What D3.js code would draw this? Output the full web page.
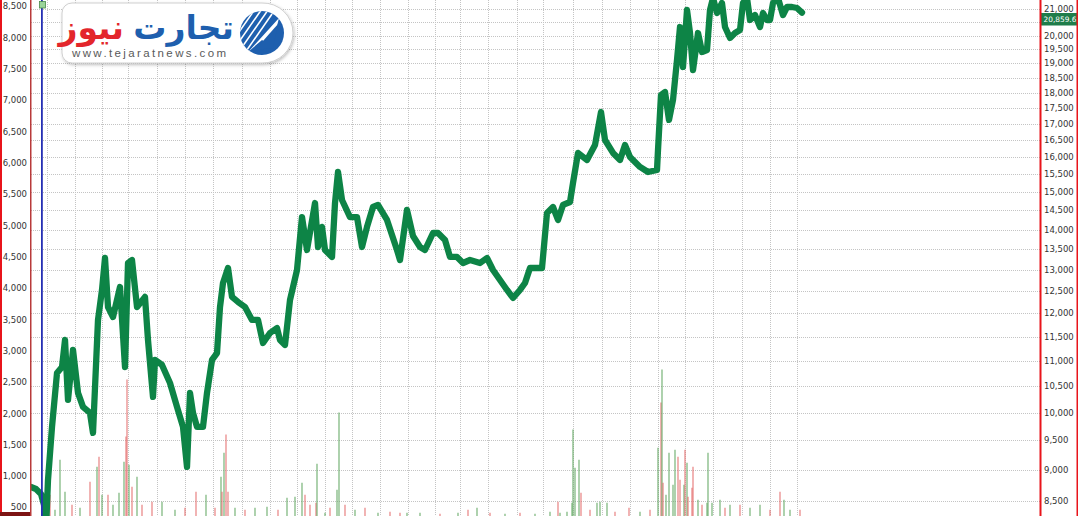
<!DOCTYPE html>
<html><head><meta charset="utf-8">
<script src="https://cdn.jsdelivr.net/npm/d3@7"></script>
<style>html,body{margin:0;padding:0;background:#fff;overflow:hidden}svg{display:block}</style>
</head><body>
<svg id="c" width="1078" height="516"></svg>
<script>
// price series: session index, closing value
const priceSession = [0,5,10,13,15,17,21,26,31,34,37,42,47,52,59,62,67,71,74,77,82,89,94,97,101,106,114,117,122,124,131,139,146,152,156,159,162,166,172,176,181,186,189,192,197,201,207,214,221,227,232,239,246,249,254,259,266,271,276,284,287,291,294,301,304,307,311,319,326,331,336,342,347,356,366,369,376,382,389,394,402,407,414,419,426,432,439,449,456,462,469,476,482,489,494,499,511,516,522,527,532,539,542,547,556,564,570,574,582,589,594,599,609,617,626,627,630,634,638,642,646,649,652,656,659,662,667,671,676,679,682,686,691,694,699,704,709,712,716,719,724,729,732,736,739,742,747,752,756,761,766,771];
const priceValue = [8721,8690,8611,8437,8060,8835,9740,10756,10874,11428,10235,11220,10368,10105,9994,9633,11857,12529,13287,12142,11922,12598,10874,13165,13238,12142,12369,11428,10292,11017,10916,10559,10105,9740,9049,10368,9994,9740,9740,10368,11017,11157,12142,12691,13045,12369,12256,12142,11857,11857,11365,11575,11682,11428,11324,12300,12997,14326,13484,14700,13558,14068,13484,13312,14700,15563,14782,14326,14326,13558,14068,14593,14648,14249,13484,13238,14513,13835,13558,13484,13912,13912,13734,13312,13312,13165,13238,13165,13287,12997,12760,12529,12346,12529,12691,13045,13045,14433,14593,14249,14648,14727,15250,16117,15910,16355,17378,16506,16117,15910,16355,15998,15708,15563,15620,16205,17930,18029,17126,17766,19121,20316,18877,20962,20093,18772,20093,19404,19475,20962,21429,20845,21232,20316,19910,20093,20205,21232,21429,20580,20769,20316,20845,20580,20580,21232,21429,20769,21077,21077,21039,20860];
const lastPrice = "20,859.6";
// volume bars: [session, volume, up(1)/down(0)]
const volumeBars = [[14,544,1],[19,704,0],[24,464,1],[29,1264,1],[34,752,1],[41,544,0],[49,496,1],[59,912,0],[66,1152,1],[68,1312,0],[71,704,1],[77,704,0],[82,544,1],[88,736,1],[93,1232,1],[95,1632,0],[96,2544,0],[98,1184,1],[101,832,0],[106,992,1],[111,544,0],[121,592,0],[131,592,1],[144,464,1],[154,496,0],[165,752,0],[175,704,1],[184,496,0],[190,992,1],[191,752,0],[193,1376,1],[195,1664,0],[197,752,0],[204,496,1],[214,464,0],[224,496,1],[236,512,1],[247,464,0],[256,656,1],[264,672,1],[271,896,1],[274,704,0],[279,544,0],[285,576,0],[286,1200,1],[294,416,1],[299,496,0],[306,784,1],[308,2016,1],[314,544,0],[324,464,1],[334,496,0],[347,416,1],[359,432,0],[369,416,0],[376,416,1],[389,416,1],[409,400,0],[427,416,1],[437,464,0],[446,496,1],[459,416,0],[474,400,1],[489,416,0],[504,400,1],[519,432,1],[527,592,0],[529,416,1],[536,432,1],[541,576,1],[542,1744,1],[544,1136,1],[548,1264,1],[550,736,0],[559,464,0],[566,576,1],[569,592,1],[576,576,1],[584,432,0],[598,496,0],[609,432,1],[619,464,0],[627,1456,1],[630,2176,0],[631,2704,1],[632,896,0],[635,704,1],[638,1376,1],[642,864,1],[644,1424,1],[647,1312,0],[649,944,0],[653,864,1],[654,1424,0],[656,1216,1],[657,672,0],[661,816,0],[662,1152,0],[667,624,1],[671,544,0],[676,576,1],[677,1376,1],[681,576,1],[689,624,1],[694,496,0],[699,544,1],[709,544,0],[719,496,1],[729,544,1],[739,464,0],[749,752,0],[753,624,1],[759,464,1],[769,464,0]];
// month boundaries (session index) for vertical grid
const monthSessions = [16,44,71,97,126,154,182,211,239,266,294,321,349,377,404,429,457,486,512,542,571,599,627,654,682,711,739,766];
// axis ticks
const rightTicks = d3.range(8500, 21001, 500);
const leftTicks = d3.range(500, 8501, 500);

const svg = d3.select("#c");
const W = 1078, H = 516;
const x = d3.scaleLinear().domain([0, 1009]).range([31, 1040]);
const y = d3.scaleLog().domain([8500, 21000]).range([501, 9]);
const yv = d3.scaleLinear().domain([500, 8500]).range([507.5, 6.5]);
const fmt = d3.format(",");

svg.append("rect").attr("width", W).attr("height", H).attr("fill", "#fff");

// grid
const grid = svg.append("g").attr("stroke", "#c4c4c4").attr("stroke-width", 1).attr("stroke-dasharray", "1,1");
grid.selectAll("line.h").data(rightTicks).join("line")
  .attr("x1", 31).attr("x2", 1040)
  .attr("y1", d => Math.round(y(d)) + 0.5).attr("y2", d => Math.round(y(d)) + 0.5);
grid.selectAll("line.v").data(monthSessions).join("line")
  .attr("x1", d => Math.round(x(d)) + 0.5).attr("x2", d => Math.round(x(d)) + 0.5)
  .attr("y1", 0).attr("y2", H);

// volume bars
svg.append("g").selectAll("line").data(volumeBars).join("line")
  .attr("x1", d => x(d[0])).attr("x2", d => x(d[0]))
  .attr("y1", yv(0)).attr("y2", d => yv(d[1]))
  .attr("stroke", d => d[2] ? "#5ea65e" : "#e36a6a")
  .attr("stroke-width", 1.2).attr("opacity", 0.85);

// price line
const line = d3.line().x((d, i) => x(priceSession[i])).y(d => y(d));
svg.append("path").datum(priceValue).attr("d", line)
  .attr("fill", "none").attr("stroke", "#0d8446").attr("stroke-width", 6.3)
  .attr("stroke-linejoin", "round").attr("stroke-linecap", "round");

// left axis area
svg.append("rect").attr("x", 0).attr("y", 0).attr("width", 30).attr("height", H).attr("fill", "#fff");
svg.append("g").selectAll("text").data(leftTicks).join("text")
  .attr("x", 27).attr("y", d => yv(d)).attr("dy", "0.35em")
  .attr("text-anchor", "end").attr("font-family", "DejaVu Sans, Verdana, sans-serif")
  .attr("font-size", 8.5).attr("fill", "#333").text(d => fmt(d));
svg.append("rect").attr("x", 0).attr("y", 0).attr("width", 2).attr("height", H).attr("fill", "#e8141b");
svg.append("rect").attr("x", 30).attr("y", 0).attr("width", 1.5).attr("height", H).attr("fill", "#b83a3a");
svg.append("rect").attr("x", 0).attr("y", 512).attr("width", 30).attr("height", 4).attr("fill", "#7d1414");

// marker line
svg.append("rect").attr("x", 41).attr("y", 0).attr("width", 1.8).attr("height", H).attr("fill", "#2630b4");
svg.append("rect").attr("x", 39.5).attr("y", 1.5).attr("width", 6).attr("height", 6.5)
  .attr("fill", "#9ad49a").attr("stroke", "#4a8a4a").attr("stroke-width", 0.8);

// right axis area
svg.append("rect").attr("x", 1041).attr("y", 0).attr("width", 37).attr("height", H).attr("fill", "#fff");
svg.append("g").selectAll("text").data(rightTicks.filter(d => Math.abs(y(d) - 19) > 7)).join("text")
  .attr("x", 1044).attr("y", d => y(d)).attr("dy", "0.35em")
  .attr("font-family", "DejaVu Sans, Verdana, sans-serif")
  .attr("font-size", 8.5).attr("fill", "#333").text(d => fmt(d));
svg.append("rect").attr("x", 1041).attr("y", 13).attr("width", 37).attr("height", 12.5).attr("fill", "#1f7d4a");
svg.append("text").attr("x", 1043.5).attr("y", 19.3).attr("dy", "0.35em")
  .attr("font-family", "DejaVu Sans, Verdana, sans-serif").attr("font-size", 7.4).attr("fill", "#fff").text(lastPrice);
svg.append("rect").attr("x", 1039.5).attr("y", 0).attr("width", 2).attr("height", H).attr("fill", "#e8141b");
svg.append("rect").attr("x", 1076.5).attr("y", 0).attr("width", 1.5).attr("height", H).attr("fill", "#e8141b");

// logo
const defs = svg.append("defs");
const f = defs.append("filter").attr("id", "sh").attr("x", "-10%").attr("y", "-20%").attr("width", "120%").attr("height", "150%");
f.append("feDropShadow").attr("dx", 1).attr("dy", 1.5).attr("stdDeviation", 1.5).attr("flood-color", "#000").attr("flood-opacity", 0.25);
defs.append("clipPath").attr("id", "cc").append("circle").attr("cx", 262).attr("cy", 33).attr("r", 22);
const logo = svg.append("g");
logo.append("path")
  .attr("d", "M72,3 L262,3 A30,30 0 0 1 293,33 A30,30 0 0 1 262,63 L72,63 A10,10 0 0 1 62,53 L62,13 A10,10 0 0 1 72,3 Z")
  .attr("fill", "#fff").attr("stroke", "#cfcfcf").attr("stroke-width", 1).attr("filter", "url(#sh)");
logo.append("text").attr("x", 234).attr("y", 39).attr("text-anchor", "end")
  .attr("font-family", "DejaVu Sans, sans-serif").attr("font-weight", "bold").attr("font-size", 33)
  .attr("fill", "#1e5fae").text("تجارت");
logo.append("text").attr("x", 124).attr("y", 39).attr("text-anchor", "end")
  .attr("font-family", "DejaVu Sans, sans-serif").attr("font-weight", "bold").attr("font-size", 33)
  .attr("fill", "#e3262b").text("نیوز");
logo.append("text").attr("x", 72).attr("y", 57)
  .attr("font-family", "Liberation Sans, Arial, sans-serif").attr("font-size", 11.5)
  .attr("textLength", 154).attr("lengthAdjust", "spacing")
  .attr("fill", "#5a5a5a").text("www.tejaratnews.com");
logo.append("circle").attr("cx", 262).attr("cy", 33).attr("r", 22).attr("fill", "#1e5fae");
const ic = logo.append("g").attr("clip-path", "url(#cc)");
[-14, -10, -6, -2, 2].forEach(o => {
  ic.append("line").attr("x1", 240 + o).attr("y1", 55 + o).attr("x2", 270 + o).attr("y2", 12 + o)
    .attr("stroke", "#fff").attr("stroke-width", 1.6);
});
ic.append("path").attr("d", "M248,52 L279,18 L272,46 L262,40 Z").attr("fill", "#fff");
ic.append("path").attr("d", "M255,50 L278,24 L273,48 Z").attr("fill", "#1e5fae");
</script>
</body></html>
